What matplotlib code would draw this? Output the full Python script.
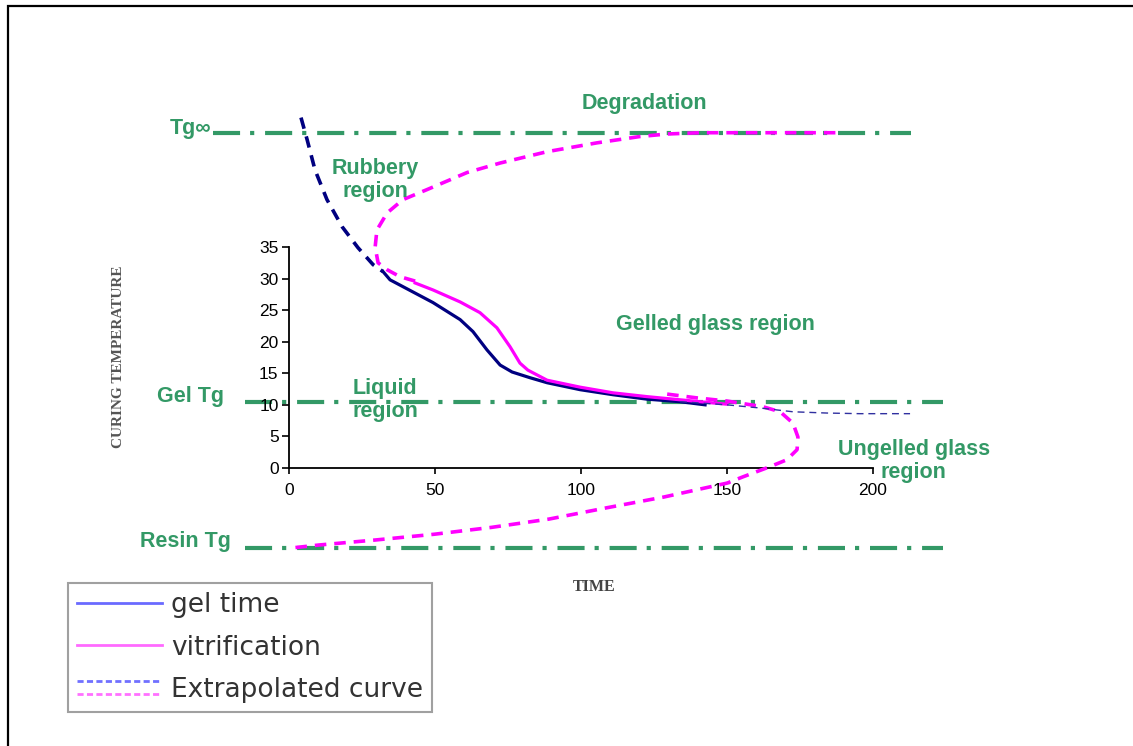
import numpy as np
import matplotlib.pyplot as plt
from matplotlib.lines import Line2D
from matplotlib.patches import Rectangle
from matplotlib.legend_handler import HandlerBase

# curve data (time, curing temperature)
gel_x = [32.2, 34.6, 49.3, 58.6, 63.0, 67.8, 72.3, 76.4, 82.5, 88.4, 99.7, 111.0, 122.6, 133.9, 142.5]
gel_y = [31.1, 29.8, 26.2, 23.5, 21.6, 18.7, 16.3, 15.2, 14.3, 13.5, 12.4, 11.6, 10.9, 10.5, 10.0]

vit_x = [43.2, 49.3, 58.6, 65.4, 71.2, 75.7, 79.1, 81.8, 88.4, 99.7, 111.0, 122.6, 133.9, 145.2, 150.0]
vit_y = [29.3, 28.2, 26.3, 24.6, 22.2, 19.2, 16.6, 15.5, 13.9, 12.8, 11.9, 11.3, 10.8, 10.3, 10.1]

gel_ext_hi_x = [4.1, 6.2, 8.9, 13.0, 18.2, 23.6, 28.8, 32.2]
gel_ext_hi_y = [55.5, 52.0, 47.2, 42.5, 38.2, 34.9, 32.2, 31.1]

gel_ext_lo_x = [133.9, 150.0, 161.3, 172.6, 184.2, 195.5, 212.7]
gel_ext_lo_y = [10.5, 10.0, 9.5, 8.9, 8.7, 8.6, 8.6]

vit_ext_hi_x = [43.2, 38.0, 33.6, 30.5, 29.5, 30.1, 33.6, 39.0, 47.3, 61.0, 72.3, 88.4,
                105.5, 120.2, 129.5, 140.8, 189.0]
vit_ext_hi_y = [29.6, 30.3, 31.4, 32.5, 35.0, 37.7, 40.4, 42.5, 44.1, 46.8, 48.3, 50.1,
                51.5, 52.5, 52.9, 53.1, 53.1]

vit_ext_lo_x = [129.5, 139.7, 150.0, 162.3, 168.2, 172.6, 174.3, 174.0, 170.5, 164.7,
                155.5, 150.0, 128.4, 108.9, 89.0, 69.5, 49.7, 29.8, 10.3, 0.3]
vit_ext_lo_y = [11.7, 11.1, 10.6, 9.7, 8.9, 7.1, 4.9, 2.9, 1.3, 0.2,
                -1.4, -2.4, -4.6, -6.3, -8.1, -9.4, -10.5, -11.4, -12.2, -12.7]

# reference temperatures (level, x start, x end)
tg_inf = [53.1, -26, 213]
gel_tg = [10.5, -15, 224]
resin_tg = [-12.7, -15, 224]

x_ticks = [0, 50, 100, 150, 200]
y_ticks = [0, 5, 10, 15, 20, 25, 30, 35]

region_labels = [
    ("Degradation", 121.6, 57.7),
    ("Rubbery\nregion", 29.5, 45.6),
    ("Gelled glass region", 145.9, 22.8),
    ("Liquid\nregion", 32.9, 10.8),
    ("Ungelled glass\nregion", 214.0, 1.1),
]
level_labels = [
    ("Tg\u221e", -26.5, 53.7),
    ("Gel Tg", -33.9, 11.3),
    ("Resin Tg", -35.6, -11.7),
]

green = '#339966'
navy = '#000080'
magenta = '#ff00ff'
sans = ['Liberation Sans', 'DejaVu Sans']

fig = plt.figure(figsize=(11.33, 7.46), dpi=100)
ax = fig.add_axes([0.2551, 0.3727, 0.5154, 0.2962])

dashdot = (0, (6.5, 2.4, 1, 2.6))
for lvl, x0, x1 in (tg_inf, gel_tg, resin_tg):
    ax.plot([x0, x1], [lvl, lvl], color=green, lw=3, linestyle=dashdot,
            clip_on=False, zorder=1)

thick_dash = (0, (3.2, 2.2))
ax.plot(gel_x, gel_y, color=navy, lw=2.3, clip_on=False, zorder=3)
ax.plot(vit_x, vit_y, color=magenta, lw=2.3, clip_on=False, zorder=3)
ax.plot(gel_ext_hi_x, gel_ext_hi_y, color=navy, lw=2.6, linestyle=thick_dash,
        clip_on=False, zorder=3)
ax.plot(vit_ext_hi_x, vit_ext_hi_y, color=magenta, lw=2.6, linestyle=thick_dash,
        clip_on=False, zorder=3)
ax.plot(vit_ext_lo_x, vit_ext_lo_y, color=magenta, lw=2.6, linestyle=thick_dash,
        clip_on=False, zorder=3)
ax.plot(gel_ext_lo_x, gel_ext_lo_y, color='#3030a0', lw=1.0, linestyle=(0, (5, 3.5)),
        clip_on=False, zorder=3)

ax.set_xlim(0, 200)
ax.set_ylim(0, 35)
ax.set_xticks(x_ticks)
ax.set_yticks(y_ticks)
for s in ('top', 'right'):
    ax.spines[s].set_visible(False)
for s in ('left', 'bottom'):
    ax.spines[s].set_linewidth(1.3)
ax.tick_params(axis='y', length=5, width=1.2, pad=2.5, labelsize=12.5)
ax.tick_params(axis='x', length=4, width=1.2, pad=7, labelsize=12.5)
for lab in ax.get_xticklabels() + ax.get_yticklabels():
    lab.set_family(sans)
ax.patch.set_visible(False)

for txt, x, y in region_labels:
    ax.text(x, y, txt, color=green, fontsize=15.5, fontweight='bold', family=sans,
            ha='center', va='center', linespacing=1.1, clip_on=False)
for txt, x, y in level_labels:
    ax.text(x, y, txt, color=green, fontsize=15.5, fontweight='bold', family=sans,
            ha='right' if txt.startswith('Tg') else 'center', va='center', clip_on=False)

fig.text(0.105, 0.5214, 'CURING TEMPERATURE', rotation=90, ha='center', va='center',
         family='Liberation Serif', fontweight='bold', fontsize=11, color='#555555')
fig.text(0.5243, 0.2131, 'TIME', ha='center', va='center',
         family='Liberation Serif', fontweight='bold', fontsize=11.5, color='#444444')


class Extrapolated:
    pass


class DoubleDash(HandlerBase):
    def create_artists(self, legend, orig_handle, xdescent, ydescent, width, height,
                       fontsize, trans):
        yc = (height - ydescent) / 2
        xs = [-xdescent, -xdescent + width]
        l1 = Line2D(xs, [yc + 4.5, yc + 4.5], color='#7070ff', lw=2,
                    linestyle=(0, (2.2, 1.2)), transform=trans)
        l2 = Line2D(xs, [yc - 4.5, yc - 4.5], color='#ff70ff', lw=2,
                    linestyle=(0, (2.2, 1.2)), transform=trans)
        return [l1, l2]


handles = [Line2D([], [], color='#6a6aff', lw=2),
           Line2D([], [], color='#ff6aff', lw=2),
           Extrapolated()]
labels = ['gel time', 'vitrification', 'Extrapolated curve']
leg = fig.legend(handles, labels, loc='upper left', bbox_to_anchor=(0.06, 0.2185),
                 bbox_transform=fig.transFigure, borderaxespad=0, fancybox=False,
                 handlelength=3.2, handletextpad=0.35, borderpad=0.35, labelspacing=0.62,
                 prop={'family': 'DejaVu Sans', 'size': 19},
                 handler_map={Extrapolated: DoubleDash()})
leg.get_frame().set_edgecolor('#888888')
leg.get_frame().set_linewidth(1.5)
for t in leg.get_texts():
    t.set_color('#333333')

fig.add_artist(Rectangle((0.007, -0.1), 1.2, 1.092, transform=fig.transFigure,
                         fill=False, edgecolor='black', lw=1.6))

fig.savefig('out.png', dpi=100)
